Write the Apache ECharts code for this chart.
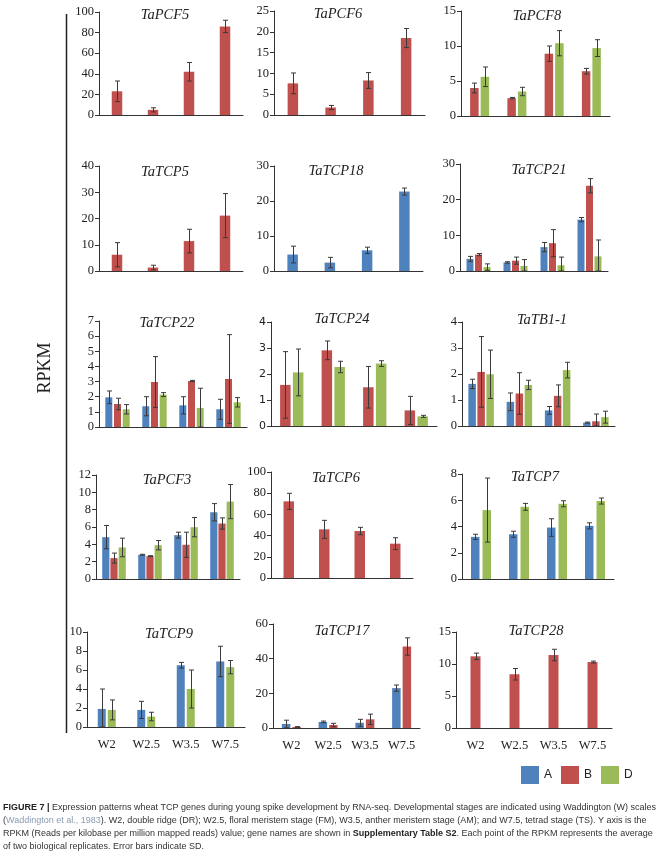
<!DOCTYPE html>
<html><head><meta charset="utf-8">
<script src="https://cdn.jsdelivr.net/npm/echarts@6/dist/echarts.min.js"></script>
<style>html,body{margin:0;padding:0;background:#fff}#c{width:667px;height:857px}</style>
</head><body><div id="c"></div>
<script>
// ---------- data ----------
const stages = ['W2','W2.5','W3.5','W7.5'];
const legendNames = ['A','B','D'];

const TaPCF5_B = [23,5,42,86];            const TaPCF5_Berr = [10,2,9,6];
const TaPCF6_B = [7.6,1.8,8.3,18.5];      const TaPCF6_Berr = [2.5,0.5,1.9,2.3];
const TaPCF8_B = [4.0,2.55,8.9,6.4];      const TaPCF8_Berr = [0.7,0.1,1.1,0.4];
const TaPCF8_D = [5.6,3.5,10.4,9.7];      const TaPCF8_Derr = [1.4,0.6,1.8,1.2];
const TaTCP5_B = [6.2,1.3,11.4,21.1];     const TaTCP5_Berr = [4.6,0.9,4.5,8.4];
const TaTCP18_A = [4.7,2.4,5.9,22.7];     const TaTCP18_Aerr = [2.4,1.5,0.9,1.0];
const TaTCP21_A = [3.4,2.4,6.7,14.4];     const TaTCP21_Aerr = [0.7,0.2,1.3,0.6];
const TaTCP21_B = [4.6,2.9,7.8,23.9];     const TaTCP21_Berr = [0.3,1.0,3.8,2.0];
const TaTCP21_D = [1.1,1.4,1.6,4.1];      const TaTCP21_Derr = [0.9,1.8,2.3,4.6];
const TaTCP22_A = [1.96,1.37,1.43,1.17];  const TaTCP22_Aerr = [0.42,0.63,0.57,0.66];
const TaTCP22_B = [1.52,2.97,3.04,3.17];  const TaTCP22_Berr = [0.38,1.68,0.04,2.93];
const TaTCP22_D = [1.17,2.14,1.26,1.63];  const TaTCP22_Derr = [0.31,0.13,1.3,0.31];
const TaTCP24_B = [1.58,2.91,1.49,0.6];   const TaTCP24_Berr = [1.28,0.36,0.8,0.54];
const TaTCP24_D = [2.06,2.27,2.4,0.37];   const TaTCP24_Derr = [0.9,0.22,0.11,0.04];
const TaTB1_A = [1.62,0.93,0.6,0.13];     const TaTB1_Aerr = [0.18,0.34,0.15,0.02];
const TaTB1_B = [2.08,1.25,1.16,0.18];    const TaTB1_Berr = [1.36,0.8,0.42,0.28];
const TaTB1_D = [1.99,1.58,2.15,0.34];    const TaTB1_Derr = [0.93,0.18,0.3,0.23];
const TaPCF3_A = [4.83,2.8,5.06,7.7];     const TaPCF3_Aerr = [1.34,0.05,0.34,1.0];
const TaPCF3_B = [2.41,2.64,3.95,6.4];    const TaPCF3_Berr = [0.58,0.05,1.45,0.65];
const TaPCF3_D = [3.64,3.9,5.98,8.93];    const TaPCF3_Derr = [1.07,0.54,1.11,1.97];
const TaTCP6_B = [72.3,45.9,44.3,32.4];   const TaTCP6_Berr = [7.6,8.5,3.5,5.6];
const TaTCP7_A = [3.21,3.41,3.92,4.05];   const TaTCP7_Aerr = [0.2,0.23,0.67,0.23];
const TaTCP7_D = [5.25,5.5,5.73,5.94];    const TaTCP7_Derr = [2.44,0.26,0.23,0.23];
const TaTCP9_A = [1.9,1.8,6.5,6.9];       const TaTCP9_Aerr = [2.1,0.9,0.3,1.6];
const TaTCP9_D = [1.8,1.1,4.0,6.3];       const TaTCP9_Derr = [1.05,0.45,2.0,0.7];
const TaTCP17_A = [2.3,3.5,3,23];         const TaTCP17_Aerr = [2.2,0.5,2,1.8];
const TaTCP17_B = [0.6,1.7,5,47];         const TaTCP17_Berr = [0.2,1,3,5];
const TaTCP28_B = [11.2,8.4,11.4,10.3];   const TaTCP28_Berr = [0.5,0.9,0.9,0.15];

const panelNames = ['TaPCF5','TaPCF6','TaPCF8','TaTCP5','TaTCP18','TaTCP21','TaTCP22','TaTCP24','TaTB1-1','TaPCF3','TaTCP6','TaTCP7','TaTCP9','TaTCP17','TaTCP28'];
const panelMax = [100,25,15,40,30,30,7,4,4,12,100,8,10,60,15];
const panelStep = [20,5,5,10,10,10,1,1,1,2,20,2,2,20,5];
const panelSeries = [
  {B:[TaPCF5_B,TaPCF5_Berr]},
  {B:[TaPCF6_B,TaPCF6_Berr]},
  {B:[TaPCF8_B,TaPCF8_Berr], D:[TaPCF8_D,TaPCF8_Derr]},
  {B:[TaTCP5_B,TaTCP5_Berr]},
  {A:[TaTCP18_A,TaTCP18_Aerr]},
  {A:[TaTCP21_A,TaTCP21_Aerr], B:[TaTCP21_B,TaTCP21_Berr], D:[TaTCP21_D,TaTCP21_Derr]},
  {A:[TaTCP22_A,TaTCP22_Aerr], B:[TaTCP22_B,TaTCP22_Berr], D:[TaTCP22_D,TaTCP22_Derr]},
  {B:[TaTCP24_B,TaTCP24_Berr], D:[TaTCP24_D,TaTCP24_Derr]},
  {A:[TaTB1_A,TaTB1_Aerr], B:[TaTB1_B,TaTB1_Berr], D:[TaTB1_D,TaTB1_Derr]},
  {A:[TaPCF3_A,TaPCF3_Aerr], B:[TaPCF3_B,TaPCF3_Berr], D:[TaPCF3_D,TaPCF3_Derr]},
  {B:[TaTCP6_B,TaTCP6_Berr]},
  {A:[TaTCP7_A,TaTCP7_Aerr], D:[TaTCP7_D,TaTCP7_Derr]},
  {A:[TaTCP9_A,TaTCP9_Aerr], D:[TaTCP9_D,TaTCP9_Derr]},
  {A:[TaTCP17_A,TaTCP17_Aerr], B:[TaTCP17_B,TaTCP17_Berr]},
  {B:[TaTCP28_B,TaTCP28_Berr]}
];

// ---------- layout (pixels) ----------
// [x0, yTop, x1, yBottom, barWidth, gapPx, titleX, titleY]
const layout = [
  [99,12,243,115,10.5,2,165,15], [274,11,425,115,10.5,2,338,14], [461,11,610,116,8.5,2,537,16],
  [99,166,243,271,10.5,2,165,172], [274,166,423,271,10.5,2,336,171], [460,164,608,271,7,1.5,539,170],
  [99,321,247,427,7,1.7,167,323], [271,322,437,426,10.5,2.3,342,319], [462,322,615,426,7.5,1.5,542,320],
  [96,475,240,579,7.2,1,167,480], [271,472,413,578,10.5,2,336,478], [462,474,614,579,8.5,3,535,477],
  [87,632,245,727,8,2,169,634], [273,624,420,728,8.5,2,342,631], [456,632,612,728,10,2,536,631]
];
const colors = {A:'#4F81BD', B:'#C0504D', D:'#9BBB59'};
const serif = '"Liberation Serif", "Times New Roman", serif';
const sans = '"Liberation Sans", Arial, sans-serif';

const grids=[], xAxes=[], yAxes=[], series=[], graphics=[];
panelNames.forEach((nm,i)=>{
  const L = layout[i];
  const last = i >= 12;
  grids.push({left:L[0], top:L[1], width:L[2]-L[0], height:L[3]-L[1], containLabel:false});
  xAxes.push({gridIndex:i, type:'category', data:stages,
    axisLine:{show:true, lineStyle:{color:'#333', width:1}},
    axisTick:{show:false},
    axisLabel:{show:last, fontFamily:serif, fontSize:12.5, color:'#222', margin:11}});
  const isSans = nm==='TaTCP24';
  yAxes.push({gridIndex:i, type:'value', min:0, max:panelMax[i], interval:panelStep[i],
    axisLine:{show:true, lineStyle:{color:'#333', width:1}},
    axisTick:{show:true, inside:false, length:4, lineStyle:{color:'#333'}},
    splitLine:{show:false},
    axisLabel:{fontFamily:isSans?'"DejaVu Sans", sans-serif':serif, fontSize:isSans?11:12.5, color:'#222', margin:5}});
  const keys = legendNames.filter(k=>panelSeries[i][k]);
  const n = keys.length, bw = L[4], gp = L[5];
  const total = n*bw + (n-1)*gp;
  keys.forEach((k,si)=>{
    const vals = panelSeries[i][k][0], errs = panelSeries[i][k][1];
    series.push({name:k, type:'bar', xAxisIndex:i, yAxisIndex:i, data:vals,
      barWidth:bw, barGap:(gp/bw*100)+'%', itemStyle:{color:colors[k]}, animation:false});
    const off = -total/2 + bw/2 + si*(bw+gp);
    series.push({type:'custom', xAxisIndex:i, yAxisIndex:i, z:10, animation:false,
      data: vals.map((v,j)=>[j, v, errs[j]]),
      renderItem:function(params, api){
        const ci=api.value(0), v=api.value(1), e=api.value(2);
        const hi=api.coord([ci, v+e]), lo=api.coord([ci, Math.max(0, v-e)]);
        const x=Math.round(api.coord([ci, v])[0]+off)+0.5;
        const cap=2.5, st={stroke:'#3a3a3a', lineWidth:1};
        return {type:'group', children:[
          {type:'line', shape:{x1:x,y1:hi[1],x2:x,y2:lo[1]}, style:st},
          {type:'line', shape:{x1:x-cap,y1:hi[1],x2:x+cap,y2:hi[1]}, style:st},
          {type:'line', shape:{x1:x-cap,y1:lo[1],x2:x+cap,y2:lo[1]}, style:st}
        ]};
      }});
  });
  graphics.push({type:'text', x:L[6], y:L[7], style:{text:nm, font:'italic 14.5px '+serif, fill:'#222', align:'center', verticalAlign:'middle'}});
});

graphics.push({type:'line', shape:{x1:66.5,y1:14,x2:66.5,y2:733}, style:{stroke:'#222', lineWidth:1.5}});
graphics.push({type:'text', x:45, y:368, rotation:Math.PI/2, style:{text:'RPKM', font:'18px '+serif, fill:'#222', align:'center', verticalAlign:'middle'}});

const capFont = '9px '+sans;
const capLines = [
  '{b|FIGURE 7 |} Expression patterns wheat TCP genes during young spike development by RNA-seq. Developmental stages are indicated using Waddington (W) scales',
  '({g|Waddington et al., 1983}). W2, double ridge (DR); W2.5, floral meristem stage (FM), W3.5, anther meristem stage (AM); and W7.5, tetrad stage (TS). Y axis is the',
  'RPKM (Reads per kilobase per million mapped reads) value; gene names are shown in {b|Supplementary Table S2}. Each point of the RPKM represents the average',
  'of two biological replicates. Error bars indicate SD.'
];
capLines.forEach((t,i)=>{
  graphics.push({type:'text', x:3, y:808+i*13, style:{text:t, font:capFont, fill:'#333', verticalAlign:'middle',
    rich:{b:{fontWeight:'bold', fontFamily:sans, fontSize:9, fill:'#222'}, g:{fontFamily:sans, fontSize:9, fill:'#8a9bb0'}}}});
});

const chart = echarts.init(document.getElementById('c'), null, {renderer:'canvas'});
chart.setOption({
  animation:false,
  grid:grids, xAxis:xAxes, yAxis:yAxes, series:series,
  legend:{data:legendNames, left:521, top:766, padding:0, itemWidth:18, itemHeight:18, itemGap:9, icon:'rect',
    selectedMode:false, textStyle:{fontFamily:sans, fontSize:12, color:'#222'}},
  graphic:graphics
});
</script></body></html>
